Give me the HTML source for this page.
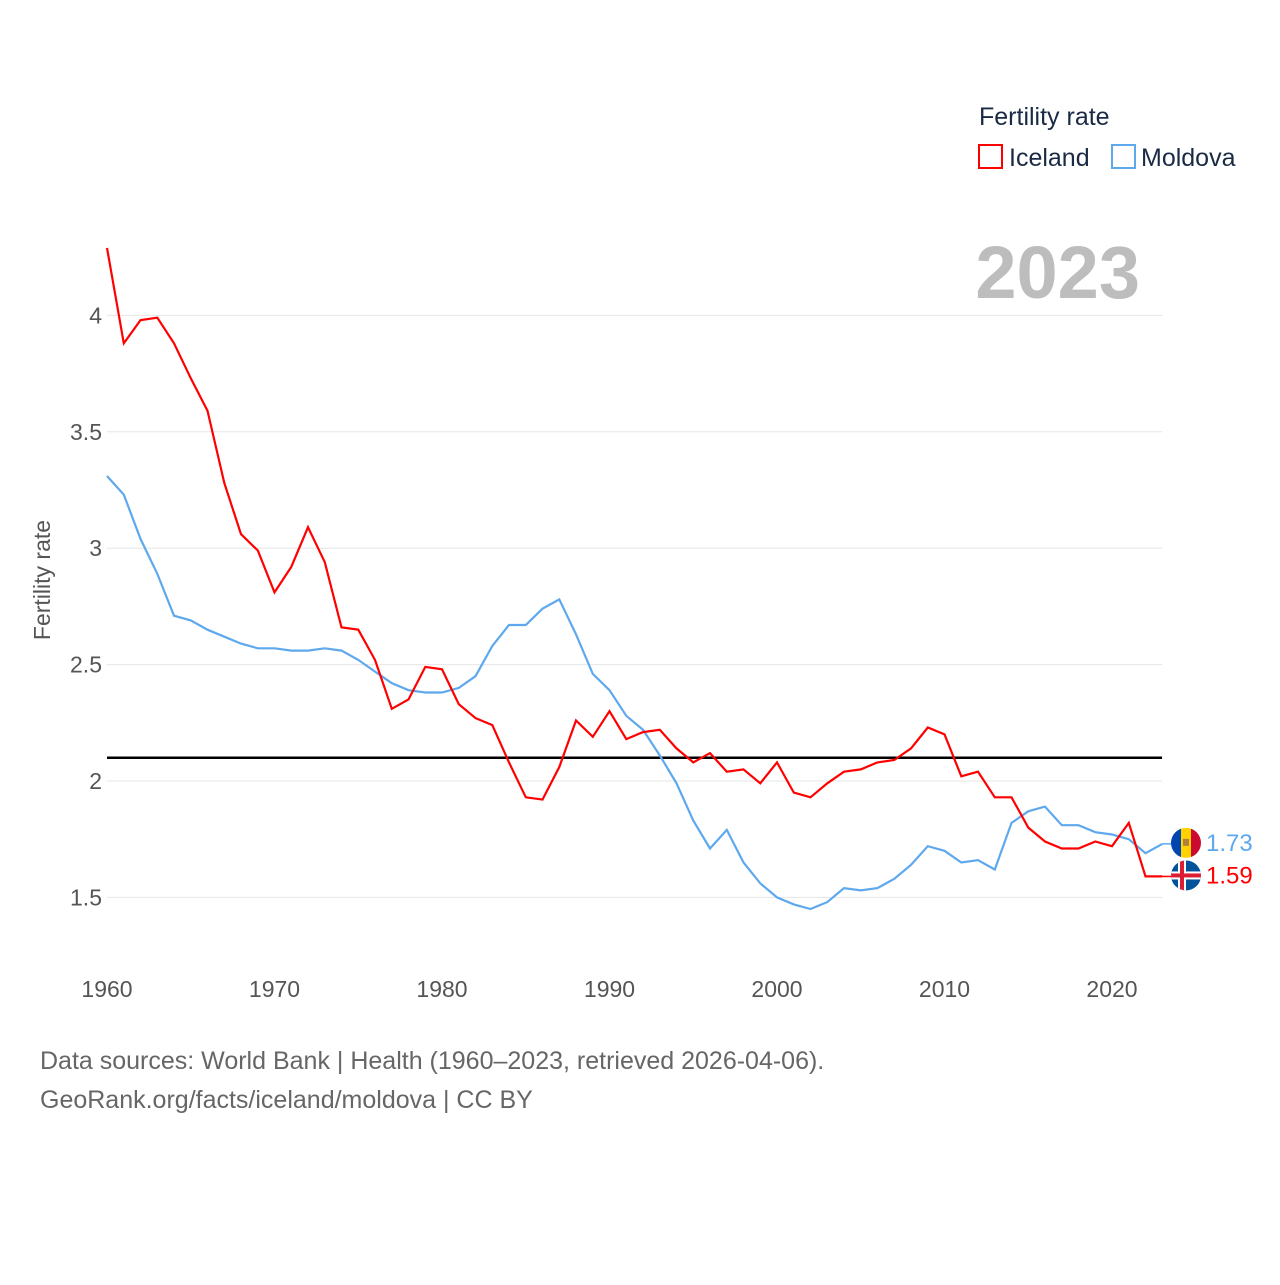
<!DOCTYPE html>
<html><head><meta charset="utf-8"><style>
html,body{margin:0;padding:0;background:#fff;}
svg text{font-family:"Liberation Sans",sans-serif;}
</style></head><body>
<svg width="1280" height="1280" viewBox="0 0 1280 1280" xmlns="http://www.w3.org/2000/svg">
<g id="grid"></g>
<g id="yticks"></g>
<g id="xticks"></g>
<text x="50" y="580" font-size="23" fill="#555" text-anchor="middle" transform="rotate(-90 50 580)">Fertility rate</text>
<text x="1140" y="298" font-size="74" font-weight="bold" fill="#bdbdbd" text-anchor="end">2023</text>
<line id="ref" x1="107" x2="1162" stroke="#000" stroke-width="2.5"/>
<path id="moldova" fill="none" stroke="#5ea8ee" stroke-width="2.2"/>
<path id="iceland" fill="none" stroke="#f00" stroke-width="2.2"/>
<g id="ends"></g>
<g>
<text x="979" y="125" font-size="25" fill="#1a2a44">Fertility rate</text>
<g><rect x="979" y="145" width="23" height="23" fill="none" stroke="#f00" stroke-width="2"/><text x="1009" y="166" font-size="25" fill="#1a2a44">Iceland</text></g>
<g><rect x="1112" y="145" width="23" height="23" fill="none" stroke="#5ea8ee" stroke-width="2"/><text x="1141" y="166" font-size="25" fill="#1a2a44">Moldova</text></g>
</g>
<text x="40" y="1069" font-size="25" fill="#666">Data sources: World Bank | Health (1960–2023, retrieved 2026-04-06).</text>
<text x="40" y="1108" font-size="25" fill="#666">GeoRank.org/facts/iceland/moldova | CC BY</text>
</svg>
<script>
const years=[];for(let y=1960;y<=2023;y++)years.push(y);
const iceland=[4.29,3.88,3.98,3.99,3.88,3.73,3.59,3.28,3.06,2.99,2.81,2.92,3.09,2.94,2.66,2.65,2.52,2.31,2.35,2.49,2.48,2.33,2.27,2.24,2.08,1.93,1.92,2.06,2.26,2.19,2.30,2.18,2.21,2.22,2.14,2.08,2.12,2.04,2.05,1.99,2.08,1.95,1.93,1.99,2.04,2.05,2.08,2.09,2.14,2.23,2.20,2.02,2.04,1.93,1.93,1.80,1.74,1.71,1.71,1.74,1.72,1.82,1.59,1.59];
const moldova=[3.31,3.23,3.04,2.89,2.71,2.69,2.65,2.62,2.59,2.57,2.57,2.56,2.56,2.57,2.56,2.52,2.47,2.42,2.39,2.38,2.38,2.40,2.45,2.58,2.67,2.67,2.74,2.78,2.63,2.46,2.39,2.28,2.22,2.11,1.99,1.83,1.71,1.79,1.65,1.56,1.50,1.47,1.45,1.48,1.54,1.53,1.54,1.58,1.64,1.72,1.70,1.65,1.66,1.62,1.82,1.87,1.89,1.81,1.81,1.78,1.77,1.75,1.69,1.73];
const yTicks=[1.5,2,2.5,3,3.5,4];
const xTicks=[1960,1970,1980,1990,2000,2010,2020];
const refValue=2.1;
const NS="http://www.w3.org/2000/svg";
const X=y=>107+(y-1960)*16.75;
const Y=v=>781-(v-2)*232.8;
const grid=document.getElementById('grid'),yt=document.getElementById('yticks'),xt=document.getElementById('xticks');
yTicks.forEach(v=>{
 const l=document.createElementNS(NS,'line');
 l.setAttribute('x1',107);l.setAttribute('x2',1162);l.setAttribute('y1',Y(v));l.setAttribute('y2',Y(v));
 l.setAttribute('stroke','#e6e6e6');l.setAttribute('stroke-width','1');
 
 
 grid.appendChild(l);
 const t=document.createElementNS(NS,'text');
 t.setAttribute('x',102);t.setAttribute('y',Y(v)+8);t.setAttribute('text-anchor','end');
 t.setAttribute('font-size','23');t.setAttribute('fill','#555');t.textContent=String(v);
 
 
 yt.appendChild(t);
});
xTicks.forEach(v=>{
 const t=document.createElementNS(NS,'text');
 t.setAttribute('x',X(v));t.setAttribute('y',997);t.setAttribute('text-anchor','middle');
 t.setAttribute('font-size','23');t.setAttribute('fill','#555');t.textContent=String(v);
 
 
 xt.appendChild(t);
});
const ref=document.getElementById('ref');ref.setAttribute('y1',Y(refValue));ref.setAttribute('y2',Y(refValue));
const path=a=>a.map((v,i)=>(i?'L':'M')+X(years[i]).toFixed(1)+','+Y(v).toFixed(1)).join('');
document.getElementById('iceland').setAttribute('d',path(iceland));
document.getElementById('moldova').setAttribute('d',path(moldova));
const ends=document.getElementById('ends');
const last=years.length-1,lx=X(years[last]);
function lab(v,col,name,flag){
 const cy=Y(v)-1;
 const g=document.createElementNS(NS,'g');
 
 
 g.innerHTML=`<line x1="${lx}" x2="1172" y1="${Y(v)}" y2="${Y(v)}" stroke="${col}" stroke-width="1.5"/>
 <defs><clipPath id="c${name}"><circle cx="1186" cy="${cy}" r="15"/></clipPath></defs>
 <g clip-path="url(#c${name})">${flag(cy)}</g>
 <text x="1206" y="${cy+8}" font-size="24" fill="${col}">${v.toFixed(2)}</text>`;
 ends.appendChild(g);
}
lab(moldova[last],'#5ea8ee','moldova-end-label',cy=>`<rect x="1171" y="${cy-15}" width="10" height="30" fill="#0046ae"/><rect x="1181" y="${cy-15}" width="10" height="30" fill="#ffd200"/><rect x="1191" y="${cy-15}" width="10" height="30" fill="#cc092f"/><rect x="1183" y="${cy-4}" width="6" height="7" fill="#b07e3f"/>`);
lab(iceland[last],'#f00','iceland-end-label',cy=>`<rect x="1171" y="${cy-15}" width="30" height="30" fill="#02529c"/><rect x="1171" y="${cy-4}" width="30" height="8" fill="#fff"/><rect x="1178" y="${cy-15}" width="8" height="30" fill="#fff"/><rect x="1171" y="${cy-2}" width="30" height="4" fill="#dc1e35"/><rect x="1180" y="${cy-15}" width="4" height="30" fill="#dc1e35"/>`);
</script>
</body></html>
